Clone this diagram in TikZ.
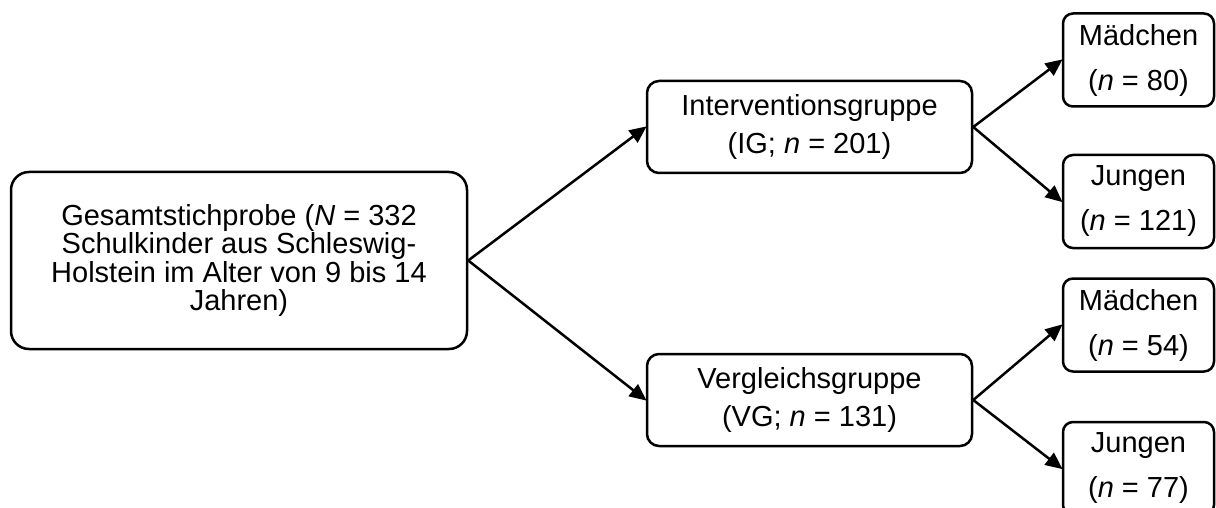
\documentclass[tikz,border=0pt]{standalone}
\usepackage{fontspec}
\setmainfont{Liberation Sans}
\usetikzlibrary{arrows.meta}
\tikzset{
  box/.style={draw, line width=2.5pt, rounded corners=12pt, align=center, inner sep=0pt},
  mainbox/.style={box, rounded corners=18pt, minimum width=456pt, minimum height=177pt, font=\fontsize{29}{28.5}\selectfont},
  midbox/.style={box, minimum width=325pt, minimum height=92pt, font=\fontsize{29}{38}\selectfont},
  smallbox/.style={box, rounded corners=10pt, minimum width=151pt, minimum height=93pt, font=\fontsize{29}{45}\selectfont},
  arr/.style={line width=2.5pt, -{Triangle[length=17pt,width=15pt]}, shorten >=-1pt}
}
\begin{document}
\begin{tikzpicture}[x=1pt,y=-1pt]
\useasboundingbox (0,0) rectangle (1216,508);
\node[mainbox] (main) at (239,260.5) {\raisebox{0pt}[\height][\depth]{}Gesamtstichprobe (\textit{N} = 332\\Schulkinder aus Schleswig-\\Holstein im Alter von 9 bis 14\\Jahren)};
\node[midbox] (ig) at (809.5,127) {Interventionsgruppe\\(IG; \textit{n} = 201)};
\node[midbox] (vg) at (809.5,400) {Vergleichsgruppe\\(VG; \textit{n} = 131)};
\node[smallbox] (m1) at (1138.5,60) {Mädchen\\(\textit{n} = 80)};
\node[smallbox] (j1) at (1138.5,201.5) {Jungen\\(\textit{n} = 121)};
\node[smallbox] (m2) at (1138.5,325) {Mädchen\\(\textit{n} = 54)};
\node[smallbox] (j2) at (1138.5,468.5) {Jungen\\(\textit{n} = 77)};
\draw[arr] (main.east) -- (ig.west);
\draw[arr] (main.east) -- (vg.west);
\draw[arr] (ig.east) -- (m1.west);
\draw[arr] (ig.east) -- (j1.west);
\draw[arr] (vg.east) -- (m2.west);
\draw[arr] (vg.east) -- (j2.west);
\end{tikzpicture}
\end{document}
